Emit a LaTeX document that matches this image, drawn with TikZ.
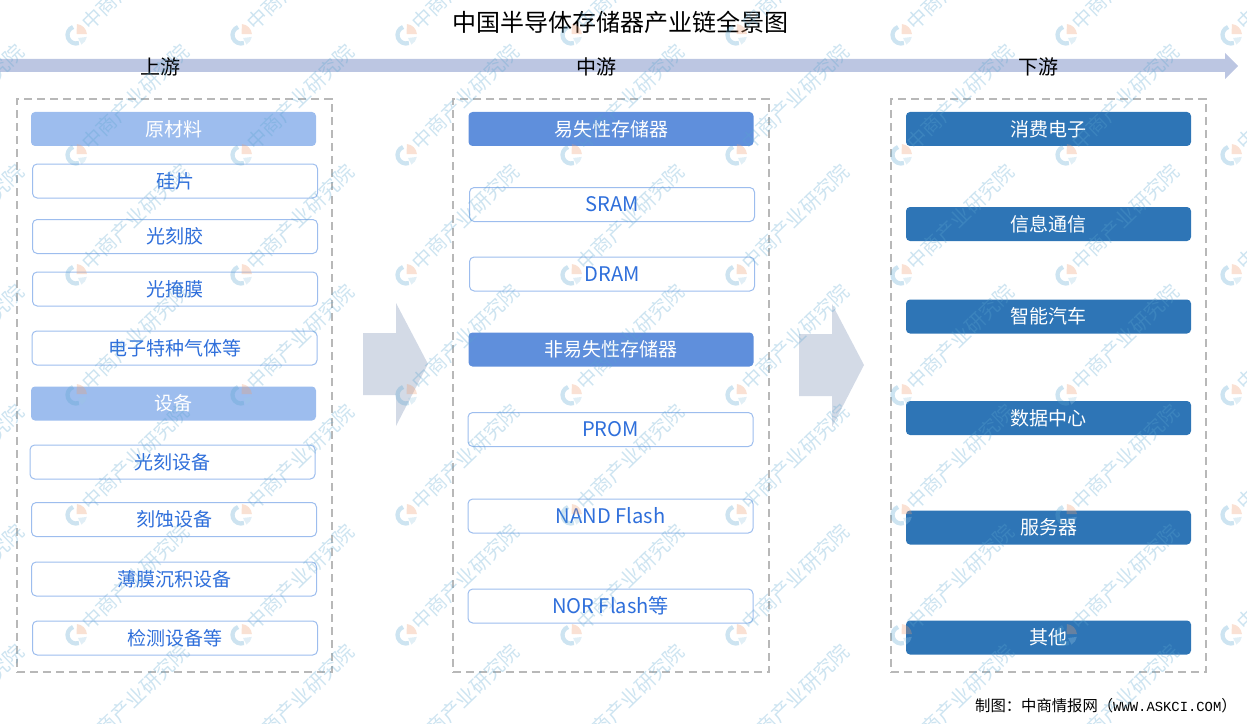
\documentclass[tikz,border=0pt]{standalone}
\usepackage{fontspec}
\setmainfont{Noto Sans CJK SC}
\newfontfamily\srcfont{Liberation Mono}
\usetikzlibrary{positioning}
\definecolor{lineColor}{HTML}{BCC6E2}
\definecolor{blockColor}{HTML}{D3DAE6}
\definecolor{rawColor}{HTML}{9DBDEE}
\definecolor{memColor}{HTML}{5F8FDC}
\definecolor{useColor}{HTML}{2E75B6}
\definecolor{itemColor}{HTML}{2F6FDB}
\definecolor{dashColor}{HTML}{B8B8B8}
\definecolor{markBlue}{HTML}{5AA5CF}
\definecolor{markOrange}{HTML}{EE9D70}
\tikzset{
	stage box/.style={draw=dashColor, dash pattern=on 6pt off 3.8pt, line width=1.5pt, minimum width=236.5pt, minimum height=430pt},
	head box/.style={rounded corners=3pt, minimum width=213.75pt, minimum height=25.5pt, text=white, font=\fontsize{14.25}{15}\selectfont, inner sep=0pt},
	raw head/.style={head box, fill=rawColor},
	mem head/.style={head box, fill=memColor},
	use head/.style={head box, fill=useColor},
	item box/.style={draw=rawColor, line width=.75pt, rounded corners=3.5pt, minimum width=213.75pt, minimum height=25.5pt, text=itemColor, fill=white, font=\fontsize{14.25}{15}\selectfont, inner sep=0pt},
	latin box/.style={item box, font=\fontsize{15.1}{15}\selectfont},
	stage label/.style={text=black, font=\fontsize{15}{15}\selectfont, inner sep=0pt}
}
\begin{document}
\begin{tikzpicture}[x=.75pt,y=-.75pt]
	\useasboundingbox (0,0) rectangle (1247,724);
	\node[inner sep=0pt, font=\fontsize{18}{18}\selectfont] at (620.5,22) (title) {中国半导体存储器产业链全景图};
	% top band
	\fill[lineColor] (0,59) -- (1225,59) -- (1225,53) -- (1238,66) -- (1225,79) -- (1225,72) -- (0,72) -- cycle;
	\node[stage label] at (160,67) (up) {上游};
	\node[stage label] at (596,67) (mid) {中游};
	\node[stage label] at (1038,67) (down) {下游};
	% dashed frames
	\node[stage box] at (174.5,385.5) (upbox) {};
	\node[stage box] at (611,385.5) (midbox) {};
	\node[stage box] at (1048.5,385.5) (downbox) {};
	% block arrows
	\fill[blockColor] (363,333) -- (396,333) -- (396,303) -- (428,364) -- (396,426) -- (396,395) -- (363,395) -- cycle;
	\fill[blockColor] (799,334) -- (832,334) -- (832,304) -- (864,365) -- (832,427) -- (832,396) -- (799,396) -- cycle;
	% upstream
	\node[raw head] at (173.5,129) (raw) {原材料};
	\node[item box] at (175,181) (si) {硅片};
	\node[item box] at (175,236.5) (resist) {光刻胶};
	\node[item box] at (175,289) (mask) {光掩膜};
	\node[item box] at (174.5,348) (gas) {电子特种气体等};
	\node[raw head] at (173.5,403.5) (equip) {设备};
	\node[item box] at (172.5,462) (litho) {光刻设备};
	\node[item box] at (174,519.5) (etch) {刻蚀设备};
	\node[item box] at (174,579) (film) {薄膜沉积设备};
	\node[item box] at (175,638) (test) {检测设备等};
	% midstream
	\node[mem head] at (611,129) (vol) {易失性存储器};
	\node[latin box] at (612,204.5) (sram) {SRAM};
	\node[latin box] at (612,274) (dram) {DRAM};
	\node[mem head] at (611,349.5) (nvol) {非易失性存储器};
	\node[latin box] at (610.5,429.5) (prom) {PROM};
	\node[latin box] at (610.5,516) (nand) {NAND Flash};
	\node[latin box] at (610.5,606) (nor) {NOR Flash等};
	% downstream
	\node[use head] at (1048.5,129) (cons) {消费电子};
	\node[use head] at (1048.5,224) (comm) {信息通信};
	\node[use head] at (1048.5,316.5) (auto) {智能汽车};
	\node[use head] at (1048.5,418) (dc) {数据中心};
	\node[use head] at (1048.5,527.5) (server) {服务器};
	\node[use head] at (1048.5,637.5) (other) {其他};
	\node[anchor=east, inner sep=0pt, font=\fontsize{11.5}{12}\selectfont] at (1237,706) (source) {制图：中商情报网（{\srcfont\fontsize{10.4}{12}\selectfont WWW.ASKCI.COM}）};
	% watermark
	\foreach \mx in {-89,76,241,406,571,736,901,1066,1231}
		\foreach \my in {35,155,275,395,515,635,755} {
			\begin{scope}[shift={(\mx,\my)}, y=.75pt, opacity=.3, transparency group]
				\draw[markBlue, line width=3.2pt] (110:8.5) arc[start angle=110, end angle=290, radius=8.5];
				\fill[markOrange] (0.5,1) -- (85:11) arc[start angle=85, end angle=5, radius=11] -- cycle;
				\fill[markBlue!60] (2,-3) -- (-10:11) arc[start angle=-10, end angle=-60, radius=11] -- cycle;
				\node[rotate=44, anchor=west, inner sep=0pt, text=markBlue, font=\fontsize{15}{15}\selectfont] at (9,9) {中商产业研究院};
			\end{scope}
		}
\end{tikzpicture}
\end{document}
